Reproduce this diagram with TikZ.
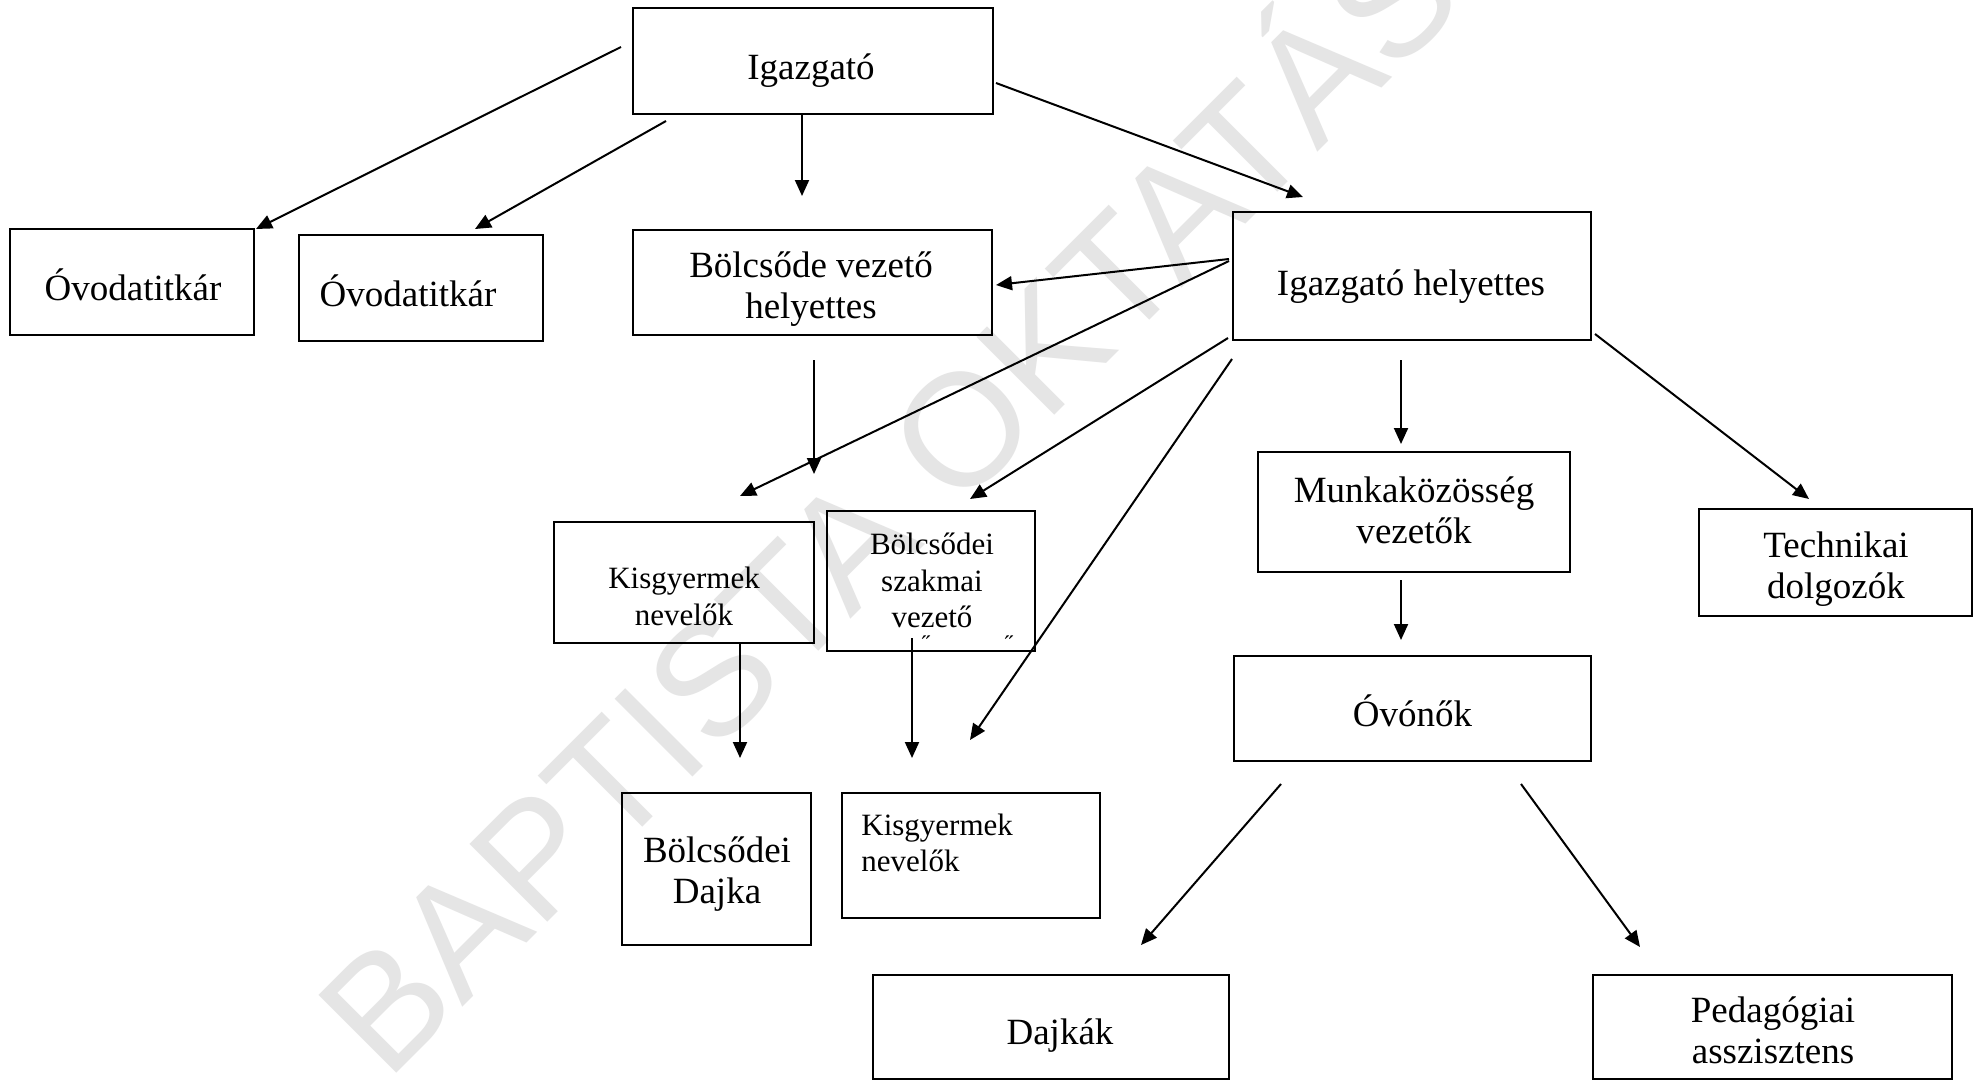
\documentclass[tikz,border=0pt]{standalone}
\usepackage{fontspec}
\setmainfont{Liberation Serif}
\newfontfamily\wmfont{Liberation Sans}
\usetikzlibrary{arrows.meta}
\tikzset{
  box/.style={draw, line width=1pt, inner sep=0pt},
  big/.style={inner sep=0pt, align=center, font=\fontsize{18.5}{20.5}\selectfont},
  small/.style={inner sep=0pt, align=center, font=\fontsize{15.5}{18.25}\selectfont},
  tiny/.style={inner sep=0pt, font=\fontsize{12}{12}\selectfont},
  arr/.style={line width=1pt, -{Triangle[length=8pt,width=7pt]}},
  wm/.style={rotate=45, anchor=base west, inner sep=0pt, text=black!10,
             font=\wmfont\fontsize{80}{80}\selectfont}
}
\begin{document}
\begin{tikzpicture}[x=0.5pt,y=-0.5pt]
\useasboundingbox (0,0) rectangle (1973,1081);
\clip (0,0) rectangle (1973,1081);
\fill[white] (0,0) rectangle (1973,1081);

% watermark
\node[wm] (wmark) at (387,1083) {BAPTISTA OKTATÁS};

% boxes
\node[box, minimum width=180pt,  minimum height=53pt]   (igaz) at (813,61) {};
\node[box, minimum width=122pt,  minimum height=53pt]   (ot1)  at (132,282) {};
\node[box, minimum width=122pt,  minimum height=53pt]   (ot2)  at (421,288) {};
\node[box, minimum width=179.5pt,minimum height=52.5pt] (bvh)  at (812.5,282.5) {};
\node[box, minimum width=179pt,  minimum height=64pt]   (ih)   at (1412,276) {};
\node[box, minimum width=130pt,  minimum height=60.5pt] (kn1)  at (684,582.5) {};
\node[box, minimum width=104pt,  minimum height=70pt]   (bsz)  at (931,581) {};
\node[box, minimum width=156pt,  minimum height=60pt]   (mk)   at (1414,512) {};
\node[box, minimum width=136.5pt,minimum height=53.5pt] (tech) at (1835.5,562.5) {};
\node[box, minimum width=178.5pt,minimum height=52.5pt] (ovo)  at (1412.5,708.5) {};
\node[box, minimum width=179.5pt,minimum height=52pt]   (ped)  at (1772.5,1027) {};
\node[box, minimum width=178pt,  minimum height=52pt]   (daj)  at (1051,1027) {};
\node[box, minimum width=94.5pt, minimum height=76pt]   (bd)   at (716.5,869) {};
\node[box, minimum width=129pt,  minimum height=62.5pt] (kn2)  at (971,855.5) {};

% texts
\node[big]   (igazT) at (811,71)    {Igazgató};
\node[big]   (ot1T)  at (133,285)   {Óvodatitkár};
\node[big]   (ot2T)  at (408,290.5) {Óvodatitkár};
\node[big]   (bvhT)  at (811,289)   {Bölcsőde vezető\\helyettes};
\node[big]   (ihT)   at (1411,287)  {Igazgató helyettes};
\node[small] (kn1T)  at (684,596.5) {Kisgyermek\\nevelők};
\node[small] (bszT)  at (932,580.5) {Bölcsődei\\szakmai\\vezető};
\node[tiny]  (acc1)  at (926,644)   {˝};
\node[tiny]  (acc2)  at (1009,644)  {˝};
\node[big]   (mkT)   at (1414,510.5) {Munkaközösség\\vezetők};
\node[big]   (techT) at (1836,569)  {Technikai\\dolgozók};
\node[big]   (ovoT)  at (1412.5,711) {Óvónők};
\node[big]   (pedT)  at (1773,1030) {Pedagógiai\\asszisztens};
\node[big]   (dajT)  at (1060,1036) {Dajkák};
\node[big]   (bdT)   at (717,874)   {Bölcsődei\\Dajka};
\node[small, align=left, anchor=west] (kn2T) at (861,843) {Kisgyermek\\nevelők};

% connectors
\draw[arr] ([shift={(-11,40)}]igaz.north west) -- ([shift={(1,1)}]ot1.north east);
\draw[arr] ([shift={(34,6)}]igaz.south west) -- ([shift={(177,-5)}]ot2.north west);
\draw[arr] ([shift={(-11,0)}]igaz.south) -- ([shift={(-10.5,-33)}]bvh.north);
\draw[arr] ([shift={(2,76)}]igaz.north east) -- ([shift={(71,-14)}]ih.north west);

\draw[arr] ([shift={(-3,48)}]ih.north west) -- ([shift={(3,56)}]bvh.north east);
\draw[arr] ([shift={(-3,50)}]ih.north west) -- ([shift={(56,-25)}]kn1.north);
\draw[arr] ([shift={(-4,-3)}]ih.south west) -- ([shift={(39,-11)}]bsz.north);
\draw[arr] ([shift={(0,18)}]ih.south west) -- ([shift={(-1,-52)}]kn2.north);
\draw[arr] ([shift={(-11,19)}]ih.south) -- ([shift={(-13,-7)}]mk.north);
\draw[arr] ([shift={(3,-7)}]ih.south east) -- ([shift={(111,-9)}]tech.north west);

\draw[arr] ([shift={(1.5,24)}]bvh.south) -- ([shift={(130,-47)}]kn1.north);
\draw[arr] ([shift={(56,0)}]kn1.south) -- ([shift={(23.5,-34)}]bd.north);
\draw[arr] ([shift={(-19,-14)}]bsz.south) -- ([shift={(-59,-34)}]kn2.north);

\draw[arr] ([shift={(-13,7)}]mk.south) -- ([shift={(-11.5,-15)}]ovo.north);
\draw[arr] ([shift={(-131.5,22)}]ovo.south) -- ([shift={(90,-29)}]daj.north);
\draw[arr] ([shift={(108.5,22)}]ovo.south) -- ([shift={(-132.5,-27)}]ped.north);
\end{tikzpicture}
\end{document}
